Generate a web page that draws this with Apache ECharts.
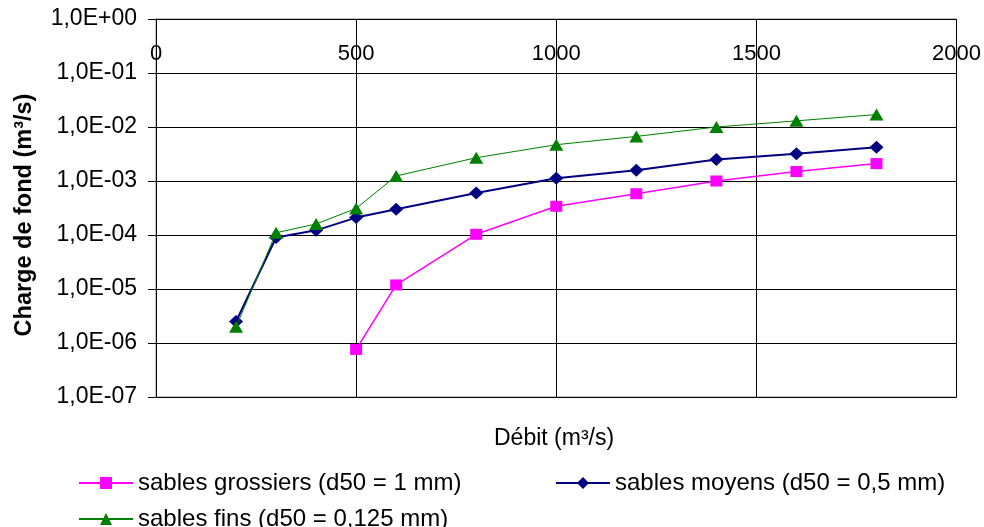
<!DOCTYPE html>
<html>
<head>
<meta charset="utf-8">
<script src="https://cdn.jsdelivr.net/npm/echarts@6/dist/echarts.min.js"></script>
<style>
html,body{margin:0;padding:0;background:#fff;}
#chart{width:984px;height:527px;}
</style>
</head>
<body>
<div id="chart"></div>
<script>
// Data
var debitAll = [200, 300, 400, 500, 600, 800, 1000, 1200, 1400, 1600, 1800];
var debitGrossiers = [500, 600, 800, 1000, 1200, 1400, 1600, 1800];
var grossiers = [7.6e-7, 1.19e-5, 1.03e-4, 3.4e-4, 5.8e-4, 1.0e-3, 1.5e-3, 2.1e-3];
var moyens = [2.5e-6, 9.0e-5, 1.22e-4, 2.1e-4, 3.0e-4, 6.0e-4, 1.12e-3, 1.58e-3, 2.5e-3, 3.2e-3, 4.2e-3];
var fins = [2.0e-6, 1.1e-4, 1.6e-4, 3.1e-4, 1.24e-3, 2.7e-3, 4.7e-3, 6.7e-3, 1.0e-2, 1.3e-2, 1.7e-2];
var seriesNames = ['sables grossiers (d50 = 1 mm)', 'sables moyens (d50 = 0,5 mm)', 'sables fins (d50 = 0,125 mm)'];
var xTicks = [0, 500, 1000, 1500, 2000];
var yMin = 1e-7, yMax = 1;
var xTitle = 'Débit (m³/s)';
var yTitle = 'Charge de fond (m³/s)';

function zip(xs, ys) { return xs.map(function (x, i) { return [x, ys[i]]; }); }
function sciLabel(v) {
  var e = Math.round(Math.log10(v));
  var a = Math.abs(e);
  return '1,0E' + (e < 0 ? '-' : '+') + (a < 10 ? '0' + a : '' + a);
}

var FONT = '"Liberation Sans", Arial, sans-serif';
var chart = echarts.init(document.getElementById('chart'), null, {renderer: 'canvas'});
var legendBase = {
  itemWidth: 54, itemHeight: 15, itemGap: 0, padding: 0,
  textStyle: {fontFamily: FONT, fontSize: 24, color: '#000'},
  selectedMode: false
};
chart.setOption({
  animation: false,
  backgroundColor: '#fff',
  title: {
    text: xTitle, left: 494, top: 427, padding: 0,
    textStyle: {fontFamily: FONT, fontSize: 23, fontWeight: 'normal', color: '#000'}
  },
  legend: [
    Object.assign({}, legendBase, {data: [seriesNames[0]], left: 78, top: 471}),
    Object.assign({}, legendBase, {data: [seriesNames[1]], left: 555, top: 471}),
    Object.assign({}, legendBase, {data: [seriesNames[2]], left: 78, top: 507})
  ],
  grid: {
    left: 156, top: 19, right: 26, bottom: 130,
    show: true, borderColor: '#8c8c8c', borderWidth: 1, backgroundColor: 'transparent'
  },
  xAxis: {
    type: 'value', position: 'top', min: xTicks[0], max: xTicks[xTicks.length - 1], interval: 500,
    axisLine: {show: true, lineStyle: {color: '#000', width: 1}},
    axisTick: {show: false},
    axisLabel: {inside: true, margin: 24, fontFamily: FONT, fontSize: 22, color: '#000',
      verticalAlign: 'top', showMaxLabel: true, showMinLabel: true,
      formatter: function (v) { return String(v); }},
    splitLine: {show: true, lineStyle: {color: '#000', width: 1}}
  },
  yAxis: {
    type: 'log', logBase: 10, min: yMin, max: yMax,
    name: yTitle, nameLocation: 'middle', nameRotate: 90, nameGap: 119,
    nameTextStyle: {fontFamily: FONT, fontSize: 23.5, fontWeight: 'bold', color: '#000',
      padding: [0, 14, 0, 0]},
    axisLine: {show: true, lineStyle: {color: '#000', width: 1}},
    axisTick: {show: true, length: 8, lineStyle: {color: '#000'}},
    axisLabel: {margin: 19, fontFamily: FONT, fontSize: 23, color: '#000', formatter: sciLabel},
    splitLine: {show: true, lineStyle: {color: '#000', width: 1}}
  },
  series: [
    {
      name: seriesNames[0], type: 'line', data: zip(debitGrossiers, grossiers),
      symbol: 'rect', symbolSize: [12, 11], showAllSymbol: true,
      itemStyle: {color: '#ff00ff'}, lineStyle: {color: '#ff00ff', width: 1.5}, z: 3
    },
    {
      name: seriesNames[1], type: 'line', data: zip(debitAll, moyens),
      symbol: 'diamond', symbolSize: [14, 13], showAllSymbol: true,
      itemStyle: {color: '#000080'}, lineStyle: {color: '#000080', width: 2}, z: 2
    },
    {
      name: seriesNames[2], type: 'line', data: zip(debitAll, fins),
      symbol: 'triangle', symbolSize: [14, 12], showAllSymbol: true,
      itemStyle: {color: '#008000'}, lineStyle: {color: '#008000', width: 1}, z: 4
    }
  ]
});
</script>
</body>
</html>
